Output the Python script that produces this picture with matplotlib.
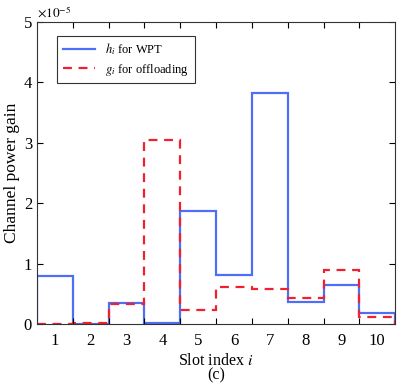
import numpy as np
import matplotlib
matplotlib.use('Agg')
import matplotlib.pyplot as plt

# Channel gains per slot (units of 1e-5)
slots = np.arange(1, 11)
h_wpt = [0.80, 0.01, 0.35, 0.02, 1.87, 0.82, 3.83, 0.36, 0.65, 0.19]
g_off = [0.005, 0.02, 0.33, 3.05, 0.23, 0.61, 0.58, 0.43, 0.89, 0.12]

plt.rcParams['font.family'] = ['Liberation Serif', 'DejaVu Serif']
plt.rcParams['mathtext.fontset'] = 'stix'

fig = plt.figure(figsize=(4.02, 3.85), dpi=100)
ax = fig.add_axes([0.092, 0.158, 0.891, 0.785])

edges = np.append(slots - 0.5, slots[-1] + 0.5)
ax.stairs(h_wpt, edges, color='#4f6ef7', lw=1.6, label='$h_i$ for WPT')
ax.stairs(g_off, edges, color='#f0202e', lw=1.6, ls=(0, (4, 3)), label='$g_i$ for offloading')

ax.set_xlim(0.5, 10.5)
ax.set_ylim(0, 5)
ax.set_yticks([0, 1, 2, 3, 4, 5])
# tick marks sit on the slot boundaries, labels in the middle of each slot
ax.set_xticks(slots[:-1] + 0.5)
ax.set_xticklabels([])
ax.set_xticks(slots, minor=True)
ax.set_xticklabels([str(s) for s in slots], minor=True)
ax.tick_params(axis='x', which='minor', length=0, labelsize=12, pad=6)
ax.tick_params(which='major', direction='in', top=True, right=True, length=4, labelsize=12)
for s in ax.spines.values():
    s.set_linewidth(0.8)
    s.set_color('#333333')

ax.text(0.0, 1.005, r'$\times 10^{-5}$', transform=ax.transAxes, fontsize=9.5, va='bottom', ha='left')
ax.set_ylabel('Channel power gain', fontsize=12.5, labelpad=3)
ax.set_xlabel('Slot index $i$', fontsize=11.5, labelpad=3)
fig.text(0.5 * (0.092 + 0.983), 0.003, '(c)', ha='center', va='bottom', fontsize=11.5)

leg = ax.legend(loc='upper left', bbox_to_anchor=(0.056, 0.954), fontsize=9, fancybox=False,
                framealpha=1, edgecolor='#333333', handlelength=2.6, borderpad=0.45,
                labelspacing=0.35, borderaxespad=0)
leg.get_frame().set_linewidth(0.8)

fig.savefig('out.png', dpi=100)
